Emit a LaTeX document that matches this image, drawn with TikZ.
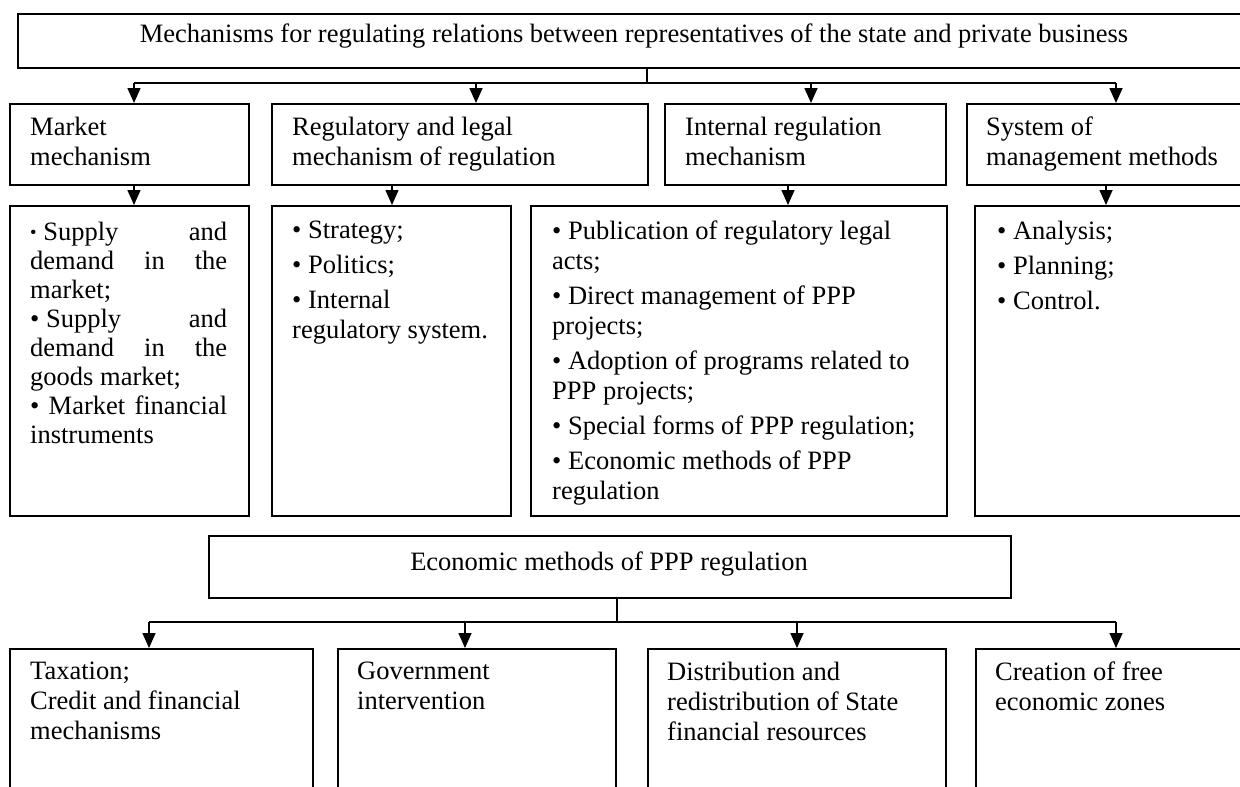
\documentclass[tikz,border=0pt]{standalone}
\usepackage{fontspec}
\setmainfont{Liberation Serif}
\usetikzlibrary{arrows.meta,positioning,calc}

\begin{document}
\begin{tikzpicture}[x=1pt,y=-1pt,
  box/.style={draw,line width=1.6pt,inner sep=0pt,anchor=north west},
  txt/.style={inner sep=0pt,anchor=north west,align=left,font=\fontsize{26.5}{30}\selectfont,execute at begin node=\strut},
  ctr/.style={inner sep=0pt,anchor=base,font=\fontsize{26.5}{30}\selectfont},
  lnk/.style={line width=1.6pt},
  arr/.style={line width=1.6pt,-{Triangle[length=15pt,width=13pt]}}]
\useasboundingbox (0,0) rectangle (1240,787);
% top level
\node[box,minimum width=1230pt,minimum height=54pt] (head) at (17,13) {};
\node[ctr] (headtext) at (634,42) {Mechanisms for regulating relations between representatives of the state and private business};
% second row
\node[box,minimum width=239pt,minimum height=81pt] (mkt) at (9,103) {};
\node[box,minimum width=376pt,minimum height=81pt] (reg) at (271,103) {};
\node[box,minimum width=281pt,minimum height=81pt] (int) at (664,103) {};
\node[box,minimum width=280pt,minimum height=81pt] (sys) at (966,103) {};
\node[txt] (mkttext) at (30,117) {Market\\mechanism};
\node[txt] (regtext) at (292,117) {Regulatory and legal\\mechanism of regulation};
\node[txt] (inttext) at (685,117) {Internal regulation\\mechanism};
\node[txt] (systext) at (986,117) {System of\\management methods};
% third row
\node[box,minimum width=239pt,minimum height=310pt] (mktl) at (9,205) {};
\node[box,minimum width=239pt,minimum height=310pt] (regl) at (271,205) {};
\node[box,minimum width=416pt,minimum height=310pt] (intl) at (530,205) {};
\node[box,minimum width=272pt,minimum height=310pt] (sysl) at (974,205) {};
\node[txt,font=\fontsize{26.5}{29}\selectfont] (mktltext) at (30,222) {%
  \makebox[197pt][l]{\raisebox{2pt}{\scalebox{0.7}{•}} Supply\hfill and}\\
  \makebox[197pt][s]{demand in the}\\
  market;\\
  \makebox[197pt][l]{• Supply\hfill and}\\
  \makebox[197pt][s]{demand in the}\\
  goods market;\\
  \makebox[197pt][s]{• Market financial}\\
  instruments};
\node[txt] (regltext) at (292,221) {• Strategy;\\[5pt]• Politics;\\[5pt]• Internal\\regulatory system.};
\node[txt] (intltext) at (552,221) {• Publication of regulatory legal\\acts;\\[5pt]
  • Direct management of PPP\\projects;\\[5pt]
  • Adoption of programs related to\\PPP projects;\\[5pt]
  • Special forms of PPP regulation;\\[5pt]
  • Economic methods of PPP\\regulation};
\node[txt] (sysltext) at (997,221) {• Analysis;\\[5pt]• Planning;\\[5pt]• Control.};
% economic methods
\node[box,minimum width=802pt,minimum height=62pt] (econ) at (208,535) {};
\node[ctr] (econtext) at (609,570) {Economic methods of PPP regulation};
\node[box,minimum width=303pt,minimum height=150pt] (tax) at (9,648) {};
\node[box,minimum width=278pt,minimum height=150pt] (gov) at (337,648) {};
\node[box,minimum width=298pt,minimum height=150pt] (dist) at (647,648) {};
\node[box,minimum width=271pt,minimum height=150pt] (fez) at (975,648) {};
\node[txt] (taxtext) at (30,662) {Taxation;\\Credit and financial\\mechanisms};
\node[txt] (govtext) at (357,662) {Government\\intervention};
\node[txt] (disttext) at (667,662) {Distribution and\\redistribution of State\\financial resources};
\node[txt] (feztext) at (995,662) {Creation of free\\economic zones};
% connectors
\coordinate (topbus) at (647,83);
\draw[lnk] (topbus |- head.south) -- (topbus);
\draw[lnk] (134,83) -- (1116,83);
\draw[arr] (134,83) -- (134,0 |- mkt.north);
\draw[arr] (476,83) -- (476,0 |- reg.north);
\draw[arr] (811,83) -- (811,0 |- int.north);
\draw[arr] (1116,83) -- (1116,0 |- sys.north);
\draw[arr] (134,0 |- mkt.south) -- (134,0 |- mktl.north);
\draw[arr] (392,0 |- reg.south) -- (392,0 |- regl.north);
\draw[arr] (788,0 |- int.south) -- (788,0 |- intl.north);
\draw[arr] (1106,0 |- sys.south) -- (1106,0 |- sysl.north);
\coordinate (lowbus) at (617,622);
\draw[lnk] (lowbus |- econ.south) -- (lowbus);
\draw[lnk] (149,622) -- (1116,622);
\draw[arr] (149,622) -- (149,0 |- tax.north);
\draw[arr] (465,622) -- (465,0 |- gov.north);
\draw[arr] (797,622) -- (797,0 |- dist.north);
\draw[arr] (1116,622) -- (1116,0 |- fez.north);
\end{tikzpicture}
\end{document}
